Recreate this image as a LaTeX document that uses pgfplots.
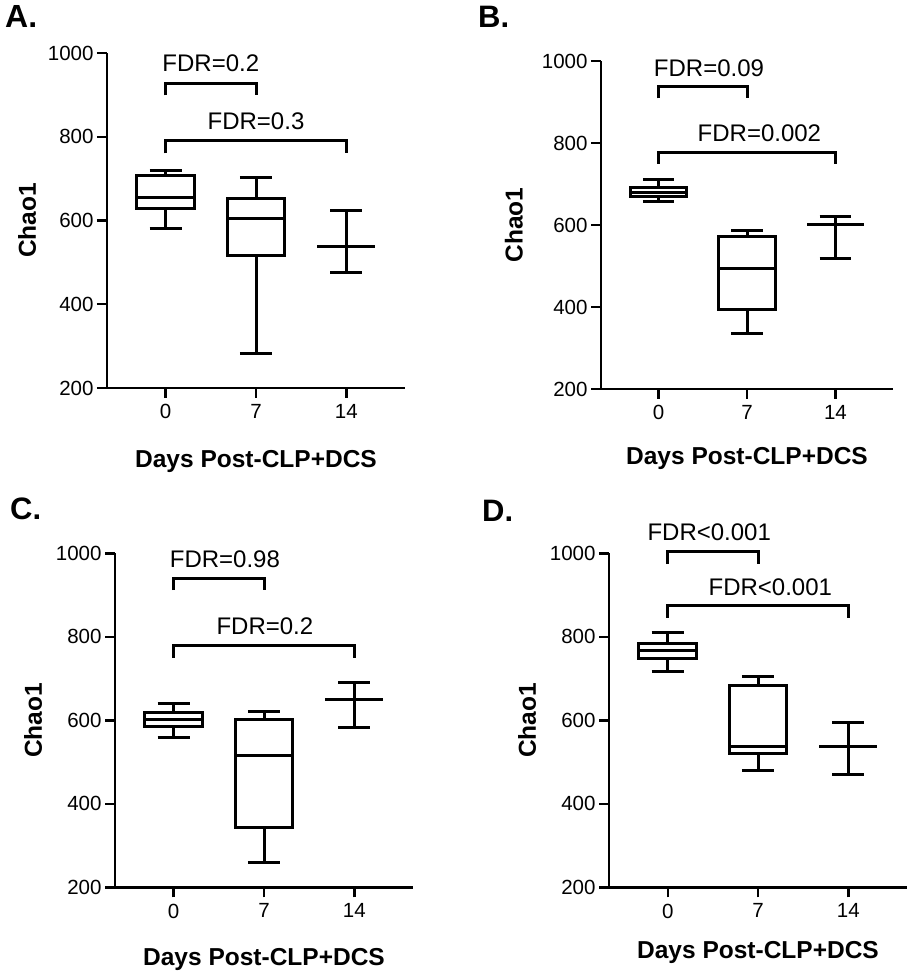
\documentclass[border=0pt]{standalone}
\usepackage{fontspec}
\setmainfont{Liberation Sans}
\usepackage{pgfplots}
\pgfplotsset{compat=1.18}
\pgfplotsset{
  panel/.style={
    scale only axis, clip=false,
    axis x line=bottom, axis y line=left,
    axis line style={-, line width=2.4pt, black},
    major tick style={black, line width=2.4pt},
    major tick length=10pt, tick align=outside,
    xmin=-0.65, xmax=2.65, ymin=200, ymax=1000,
    xtick={0,1,2}, xticklabels={0,7,14},
    ytick={200,400,600,800,1000},
    /pgf/number format/1000 sep={},
    /pgf/number format/assume math mode=true,
    tick label style={font=\fontsize{20.5}{24}\selectfont},
    xticklabel style={yshift=-3pt},
    xlabel={Days Post-CLP+DCS}, ylabel={Chao1},
    label style={font=\fontsize{24.5}{28}\selectfont\bfseries},
    xlabel style={anchor=base},
    ylabel style={anchor=center},
  },
  bx/.style={black, solid, line width=3pt, mark=none, line join=miter},
}
\tikzset{fdr/.style={font=\fontsize{24}{28}\selectfont, anchor=base, inner sep=0pt}}
\newcommand{\setpos}[1]{%
  \ifcase#1\relax
    \def\BXc{0}\def\BXl{-0.32}\def\BXr{0.32}\def\CPl{-0.178}\def\CPr{0.178}%
  \or
    \def\BXc{1}\def\BXl{0.68}\def\BXr{1.32}\def\CPl{0.822}\def\CPr{1.178}%
  \or
    \def\BXc{2}\def\BXl{1.68}\def\BXr{2.32}\def\CPl{1.822}\def\CPr{2.178}%
  \fi}
% #1 pos, #2 median, #3 upper quartile, #4 lower quartile, #5 upper whisker, #6 lower whisker
\newcommand{\drawbox}[6]{%
  \setpos{#1}%
  \addplot[bx] coordinates {(\BXc,#4) (\BXr,#4) (\BXr,#3) (\BXl,#3) (\BXl,#4) (\BXc,#4)};
  \addplot[bx] coordinates {(\BXl,#2) (\BXr,#2)};
  \addplot[bx] coordinates {(\BXc,#3) (\BXc,#5)};
  \addplot[bx] coordinates {(\CPl,#5) (\CPr,#5)};
  \addplot[bx] coordinates {(\BXc,#4) (\BXc,#6)};
  \addplot[bx] coordinates {(\CPl,#6) (\CPr,#6)};
}
% #1 pos, #2 middle, #3 upper, #4 lower
\newcommand{\drawbar}[4]{%
  \setpos{#1}%
  \addplot[bx] coordinates {(\BXl,#2) (\BXr,#2)};
  \addplot[bx] coordinates {(\BXc,#3) (\BXc,#4)};
  \addplot[bx] coordinates {(\CPl,#3) (\CPr,#3)};
  \addplot[bx] coordinates {(\CPl,#4) (\CPr,#4)};
}
\begin{document}
\begin{tikzpicture}
\useasboundingbox (0pt,0pt) rectangle (910pt,975pt);
% Panel A
\node[anchor=base west, inner sep=0pt, font=\fontsize{32}{36}\selectfont\bfseries] at (5pt,947pt) {A.};
\begin{axis}[panel, at={(107pt,587pt)}, anchor=south west, width=298pt, height=335pt,
  xlabel style={at={(axis description cs:0.5,-0.236)}},
  ylabel style={at={(axis description cs:-0.268,0.5)}}]
\drawbox{0}{654}{707}{629}{720}{581}
\drawbox{1}{605}{652}{516}{702}{282}
\drawbar{2}{539}{623}{476}
\addplot[bx] coordinates {(0,899) (0,927) (1,927) (1,899)};
\addplot[bx] coordinates {(0,760) (0,790) (2,790) (2,760)};
\node[fdr] at (axis cs:0.5,955) {FDR=0.2};
\node[fdr] at (axis cs:1.0,818) {FDR=0.3};
\end{axis}
% Panel B
\node[anchor=base west, inner sep=0pt, font=\fontsize{31}{36}\selectfont\bfseries] at (478pt,947pt) {B.};
\begin{axis}[panel, at={(601pt,586pt)}, anchor=south west, width=292pt, height=328pt,
  xlabel style={at={(axis description cs:0.5,-0.23)}},
  ylabel style={at={(axis description cs:-0.298,0.5)}}]
\drawbox{0}{680}{692}{669}{710}{657}
\drawbox{1}{495}{571}{395}{586}{336}
\drawbar{2}{602}{621}{519}
\addplot[bx] coordinates {(0,909) (0,937) (1,937) (1,909)};
\addplot[bx] coordinates {(0,749) (0,777) (2,777) (2,749)};
\node[fdr] at (axis cs:0.57,963) {FDR=0.09};
\node[fdr] at (axis cs:1.14,803) {FDR=0.002};
\end{axis}
% Panel C
\node[anchor=base west, inner sep=0pt, font=\fontsize{31}{36}\selectfont\bfseries] at (10pt,455pt) {C.};
\begin{axis}[panel, at={(115pt,87.7pt)}, anchor=south west, width=298pt, height=334pt,
  xlabel style={at={(axis description cs:0.5,-0.233)}},
  ylabel style={at={(axis description cs:-0.275,0.5)}}]
\drawbox{0}{602}{618}{585}{641}{559}
\drawbox{1}{515}{602}{344}{621}{259}
\drawbar{2}{651}{691}{582}
\addplot[bx] coordinates {(0,912) (0,940) (1,940) (1,912)};
\addplot[bx] coordinates {(0,750) (0,780) (2,780) (2,750)};
\node[fdr] at (axis cs:0.567,966) {FDR=0.98};
\node[fdr] at (axis cs:1.01,806) {FDR=0.2};
\end{axis}
% Panel D
\node[anchor=base west, inner sep=0pt, font=\fontsize{31}{36}\selectfont\bfseries] at (482pt,453pt) {D.};
\begin{axis}[panel, at={(609pt,87.7pt)}, anchor=south west, width=298pt, height=334pt,
  xlabel style={at={(axis description cs:0.5,-0.212)}},
  ylabel style={at={(axis description cs:-0.275,0.5)}}]
\drawbox{0}{768}{784}{747}{810}{718}
\drawbox{1}{537}{683}{521}{706}{479}
\drawbar{2}{537}{595}{469}
\addplot[bx] coordinates {(0,974) (0,1004) (1,1004) (1,974)};
\addplot[bx] coordinates {(0,846) (0,875) (2,875) (2,846)};
\node[fdr] at (axis cs:0.46,1030) {FDR<0.001};
\node[fdr] at (axis cs:1.136,900) {FDR<0.001};
\end{axis}
\end{tikzpicture}
\end{document}
